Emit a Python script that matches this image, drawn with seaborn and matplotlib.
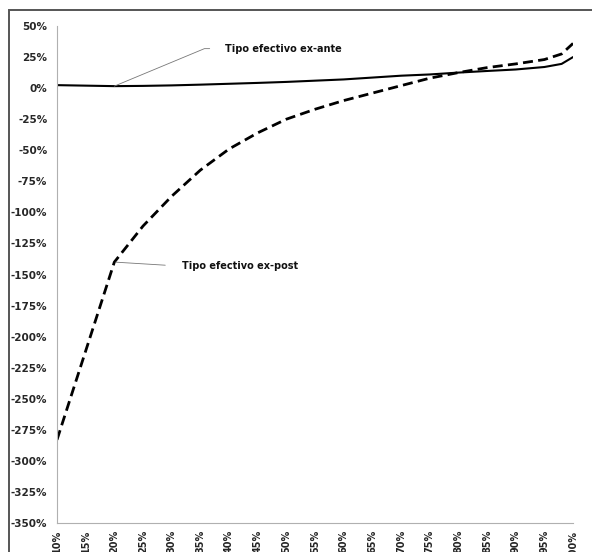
import pandas as pd
import matplotlib.pyplot as plt
import matplotlib.ticker as mticker
from matplotlib.patches import Rectangle
import seaborn as sns

# Percentile of the distribution (x) and effective tax rates (y, %)
PERCENTILES = [10, 15, 20, 25, 30, 35, 40, 45, 50, 55, 60, 65, 70, 75, 80, 85, 90, 95, 98, 100]
EX_ANTE = [2.4, 2.0, 1.6, 1.8, 2.2, 2.8, 3.5, 4.2, 5.0, 6.0, 7.0, 8.5, 10.0, 11.0, 12.5, 13.8, 15.0, 17.0, 19.5, 25.0]
EX_POST_X = [10, 20, 25, 30, 35, 40, 45, 50, 55, 60, 65, 70, 75, 80, 85, 90, 95, 98, 100]
EX_POST = [-283, -140, -111, -87, -66, -49, -36, -25, -17, -10, -4, 2, 8, 12.5, 16.5, 19.5, 23.0, 27.5, 36.0]

X_TICKS = list(range(10, 101, 5))
Y_TICKS = list(range(-350, 51, 25))

LABEL_ANTE = "Tipo efectivo ex-ante"
LABEL_POST = "Tipo efectivo ex-post"

AXIS_GREY = "#b0b0b0"

sns.set_theme(style="white")
plt.rcParams["font.family"] = ["DejaVu Sans"]

df_ante = pd.DataFrame({"pct": PERCENTILES, "rate": EX_ANTE})
df_post = pd.DataFrame({"pct": EX_POST_X, "rate": EX_POST})

fig = plt.figure(figsize=(5.92, 5.52), dpi=100)
ax = fig.add_axes([0.0963, 0.0525, 0.8717, 0.9004])

sns.lineplot(data=df_ante, x="pct", y="rate", ax=ax, color="black", linewidth=1.5)
sns.lineplot(data=df_post, x="pct", y="rate", ax=ax, color="black", linewidth=2.0,
             dashes=False)
ax.lines[-1].set_dashes((3.6, 1.9))

ax.set_xlim(10, 100)
ax.set_ylim(-350, 50)
ax.set_xticks(X_TICKS)
ax.set_yticks(Y_TICKS)
ax.xaxis.set_major_formatter(mticker.FuncFormatter(lambda v, p: f"{v:.0f}%"))
ax.yaxis.set_major_formatter(mticker.FuncFormatter(lambda v, p: f"{v:.0f}%"))
ax.set_xlabel("")
ax.set_ylabel("")

for side in ["top", "right"]:
    ax.spines[side].set_visible(False)
for side in ["left", "bottom"]:
    ax.spines[side].set_color(AXIS_GREY)
    ax.spines[side].set_linewidth(0.8)

ax.tick_params(axis="both", which="major", direction="out", length=4, width=0.8,
               color=AXIS_GREY, labelsize=7.5, pad=3)
ax.tick_params(axis="x", labelsize=7, pad=1)
for lbl in ax.get_xticklabels():
    lbl.set_rotation(90)
    lbl.set_fontweight("bold")
    lbl.set_va("top")
for lbl in ax.get_yticklabels():
    lbl.set_fontweight("bold")

# Leader-line labels
ax.annotate(
    LABEL_ANTE,
    xy=(PERCENTILES[2], EX_ANTE[2]),
    xytext=(80, 27),
    textcoords="offset points",
    ha="left", va="center", fontsize=7, fontweight="bold", color="#111111",
    arrowprops=dict(arrowstyle="-", color="#777777", lw=0.6, shrinkA=9, shrinkB=0,
                    relpos=(0, 0.5),
                    connectionstyle="angle,angleA=180,angleB=22.6,rad=0"),
)
ax.annotate(
    LABEL_POST,
    xy=(EX_POST_X[1], EX_POST[1]),
    xytext=(49, -3),
    textcoords="offset points",
    ha="left", va="center", fontsize=7, fontweight="bold", color="#111111",
    arrowprops=dict(arrowstyle="-", color="#777777", lw=0.6, shrinkA=10, shrinkB=1,
                    relpos=(0, 0.5)),
)

# Chart frame (cropped at the bottom/right like the original)
fig.patches.append(Rectangle((9 / 592, -0.1), 1.1, 1 - 10 / 552 + 0.1,
                             transform=fig.transFigure, fill=False,
                             edgecolor="#555555", linewidth=1.4))

fig.savefig("out.png", dpi=100)
plt.close(fig)
